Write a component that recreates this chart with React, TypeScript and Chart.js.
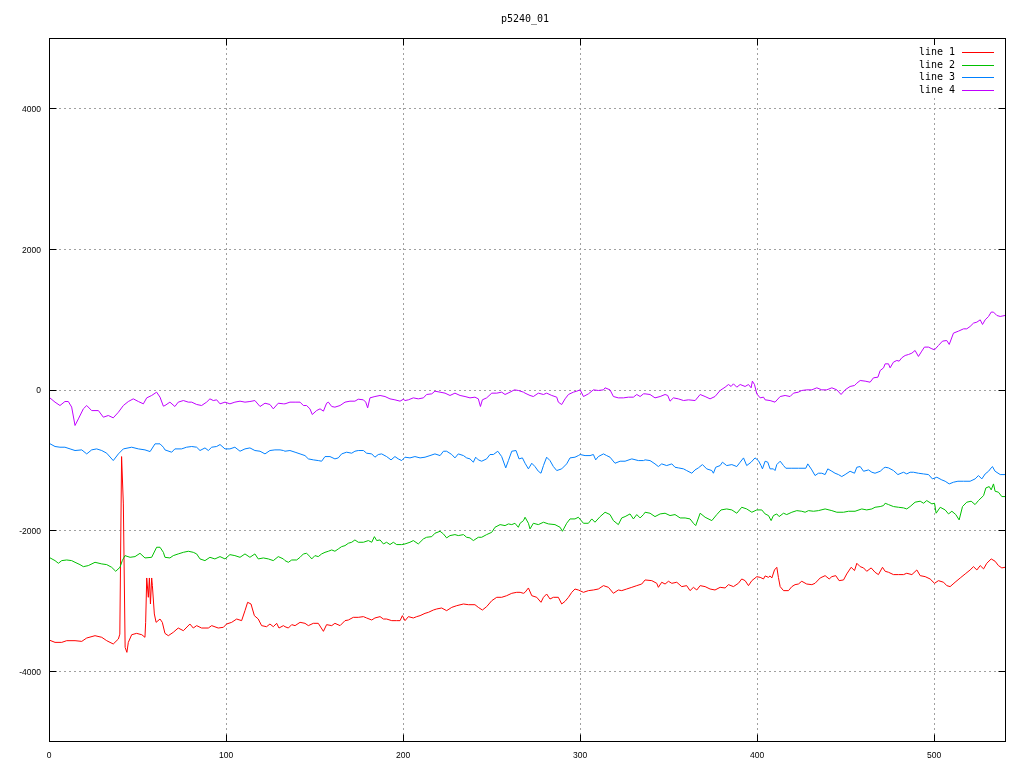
import React, { useEffect, useRef } from "react";
import { Chart, registerables } from "chart.js";

Chart.register(...registerables);

const TITLE = "p5240_01";
const X_TICKS = [0, 100, 200, 300, 400, 500];
const Y_TICKS = [-4000, -2000, 0, 2000, 4000];
const X_MIN = 0;
const X_MAX = 540;
const Y_MIN = -5000;
const Y_MAX = 5000;
const SERIES_LABELS = ["line 1", "line 2", "line 3", "line 4"];
const SERIES_COLORS = ["#ff0000", "#00c000", "#0080ff", "#c000ff"];

// line 1 (red)
const line1X = [
  0, 3.4, 7.2, 10, 14.7, 18.5, 21.3, 26, 29.8, 32.6, 36.3, 39.2, 40, 41, 42, 43, 44, 44.8, 46.7, 49.5,
  52.4, 54.2, 54.6, 55.2, 56.1, 56.7, 57.3, 58, 58.4, 59.5, 60.5, 62.7, 64,
  65.5, 67.4, 70.2, 73, 75.9, 79.6, 81.5, 83.4, 86.2, 90, 91.9, 95.6, 98.5, 100.3, 103.2, 106, 108.8, 110.7, 112.2, 114.1,
  116, 118.2, 120.1, 122.9, 124.8, 126.7, 128.6, 129.9, 132.4,
  133.3, 135.2, 137.1, 139, 141.8, 144.6, 146.5, 149.3, 152.1, 155, 156.8, 159.7, 161.5, 164.4, 167.2, 169.1, 171.9, 174.7,
  177.6, 179.4, 182.3, 184.1, 187, 188.9, 190.7, 193.6, 196.4, 198.3, 199.6,
  201.1, 203, 205.8, 207.7, 209.6, 212.4, 214.3, 217.1, 219, 221.8, 224.6, 227.5, 230.3, 234.1, 236.9, 240.6, 242.5, 244.8,
  247.2, 250.1, 252.9, 255.7, 258.5, 261.4, 264.2, 266.1, 268,
  268.9, 270.8, 272.7, 275.5, 277.9, 279.3, 281.1, 283, 284.9, 287.7, 289.6, 291.5, 293.4, 295.3, 297.1, 299, 301.9, 304.7,
  307.5, 310.3, 313.2, 316, 318.8, 321.6, 323.5, 326.3, 329.2, 332, 334.8,
  336.7, 340.5, 343.3, 344.2, 346.1, 348, 349.9, 351.8, 354.6, 357.4, 360.2, 362.1, 364, 365.9, 367.8, 370.6, 373.4, 376.2,
  379.1, 381.9, 383.8, 386.6, 389.4, 391.3, 393.2, 395.1, 397, 399.8, 401.7, 403.6,
  404.5, 406.4, 407.3, 408.3, 409.8, 411.1, 412, 413, 414.9, 417.7, 419.6, 421.4, 423.3, 425.2, 428, 430.9, 432.7, 435.6,
  438.4, 440.7, 442.2, 444.4, 446.3, 448.8, 450.6, 453.1, 455, 456.3, 458.2, 460.1, 461.9, 464.4, 466.6, 468.5, 470.8,
  472.3, 474.2, 477, 479.8, 482.7, 484.5, 487.4, 490.2, 492.1, 494.9, 497.7, 500.2, 502.4, 505.3, 507.1, 509, 511.8, 514.7,
  517.5, 520.3, 522.2, 524.1, 526, 527.9, 529.7, 532.2, 534.4, 536.3, 538.2, 540,
];
const line1Y = [
  -3563, -3597, -3597, -3573, -3573, -3583, -3535, -3502, -3525, -3573, -3620, -3549, -3480, -954, -1628, -3668, -3739, -3597, -3488, -3469,
  -3488, -3525, -3312, -2681, -2956, -2681, -3051, -2681, -2790, -3193, -3312, -3265, -3312,
  -3469, -3502, -3454, -3393, -3431, -3336, -3393, -3359, -3393, -3393, -3359, -3393, -3383, -3336, -3312, -3265, -3288, -3146, -3027, -3051,
  -3217, -3265, -3359, -3374, -3336, -3374, -3326, -3393, -3359,
  -3374, -3393, -3345, -3359, -3312, -3326, -3359, -3326, -3326, -3440, -3345, -3359, -3326, -3359, -3288, -3279, -3241, -3241,
  -3231, -3250, -3279, -3250, -3231, -3265, -3265, -3288, -3288, -3288, -3217,
  -3288, -3231, -3250, -3231, -3217, -3184, -3170, -3137, -3122, -3108, -3146, -3099, -3075, -3051, -3061, -3061, -3099, -3137,
  -3089, -3004, -2956, -2956, -2933, -2899, -2885, -2885, -2899,
  -2885, -2823, -2933, -2956, -3027, -2956, -2909, -2980, -2956, -2956, -3051, -3013, -2956, -2885, -2838, -2852, -2885, -2861,
  -2852, -2838, -2790, -2814, -2899, -2852, -2861, -2838, -2814, -2790, -2767,
  -2709, -2719, -2757, -2814, -2742, -2767, -2728, -2757, -2742, -2804, -2790, -2861, -2814, -2852, -2790, -2804, -2838, -2852,
  -2814, -2823, -2776, -2804, -2757, -2695, -2719, -2790, -2719, -2663, -2672, -2695,
  -2652, -2672, -2652, -2681, -2567, -2529, -2672, -2804, -2861, -2861, -2804, -2776, -2767, -2728, -2767, -2776, -2757, -2681,
  -2648, -2695, -2662, -2648, -2719, -2709, -2624, -2529, -2576, -2472, -2520, -2538, -2586, -2538, -2600, -2633, -2529,
  -2586, -2600, -2633, -2633, -2633, -2614, -2633, -2567, -2648, -2662, -2695, -2757, -2719, -2742, -2790, -2804, -2742, -2681,
  -2624, -2567, -2520, -2567, -2505, -2552, -2472, -2410, -2443, -2505, -2538, -2529,
];

// line 2 (green)
const line2X = [
  0, 3.4, 5.3, 7.2, 10, 12.8, 14.7, 17.5, 19.4, 22.2, 26, 29.8, 32.6, 35.4, 37.7, 40.1, 41.4, 42.9, 45.8, 48.6,
  51.4, 54.2, 58, 60.8, 62.7, 64.6,
  65.5, 68.3, 70.2, 73, 75.9, 78.7, 81.5, 83.4, 85.3, 88.1, 90.9, 93.7, 96.6, 99.4, 102.2, 105, 107.9, 110.7, 113.5, 116.3,
  118.2, 121.1, 123.9, 126.7, 129.5, 132.4,
  133.3, 135.2, 137.1, 139.9, 141.8, 143.7, 145.5, 147.4, 148.4, 150.2, 152.1, 154, 155.9, 157.8, 159.7, 161.5, 163.4, 165.3,
  167.2, 169.1, 171, 172.8, 174.7, 177.6, 180.4, 182.3, 183.8, 185.1, 187, 188.9, 190.7, 192.6, 194.5, 196.4, 199.2,
  201.1, 203.9, 205.8, 208.6, 211.5, 213.3, 216.2, 218, 220.9, 222.8, 224.6, 226.5, 229.3, 231.2, 234.1, 235.9, 237.8, 239.7,
  242.5, 244.4, 247.2, 250.1, 251.9, 254.8, 257.6, 259.5, 261.4, 263.2, 265.1, 266.1, 268,
  268.9, 270.8, 271.7, 273.6, 276.4, 279.3, 282.1, 285.8, 288.7, 290, 292.4, 294.3, 297.1, 299, 301.9, 304.7, 306.6, 308.4,
  311.3, 314.1, 316.9, 318.8, 321.6, 323.5, 325.4, 328.2, 330.1, 332, 333.9, 335.8,
  336.7, 339.5, 342.3, 345.2, 348, 350.8, 353.6, 356.5, 359.3, 362.1, 364, 365.3, 367.8, 370.6, 374.4, 377.2, 379.6, 382.8,
  385.7, 388.5, 391.3, 394.1, 397, 399.8, 402.6,
  404.5, 406.4, 407.9, 409.2, 411.1, 412.4, 414.9, 416.7, 419.6, 422.4, 425.2, 427.1, 429, 431.8, 434.6, 438.4, 442.2, 445,
  448.8, 451.6, 455.3, 459.1, 461.9, 464.8, 466.6, 469.5, 471.4,
  472.3, 474.2, 477, 479.8, 482.7, 484.5, 486.4, 489.2, 492.1, 494, 495.8, 498.7, 500.2, 501.1, 503.4, 506.2, 508.1, 510,
  512.2, 514.1, 516, 518.4, 520.9, 523.1, 525, 527.9, 529.2, 531.1, 532.2, 533.5, 534.4, 536.3, 538.2, 540,
];
const line2Y = [
  -2387, -2434, -2472, -2434, -2425, -2434, -2458, -2491, -2520, -2505, -2458, -2481, -2491, -2529, -2586, -2529, -2434, -2363, -2387, -2377,
  -2330, -2396, -2387, -2244, -2244, -2316,
  -2387, -2396, -2363, -2339, -2316, -2301, -2316, -2339, -2410, -2434, -2387, -2410, -2377, -2410, -2349, -2363, -2387, -2339, -2387, -2339,
  -2410, -2396, -2410, -2434, -2377, -2410,
  -2434, -2458, -2425, -2425, -2387, -2339, -2330, -2377, -2410, -2363, -2377, -2339, -2316, -2301, -2282, -2301, -2268, -2235,
  -2221, -2187, -2173, -2140, -2173, -2173, -2149, -2173, -2093, -2149, -2140, -2197, -2173, -2206, -2173, -2206, -2206,
  -2197, -2173, -2149, -2197, -2125, -2102, -2093, -2045, -2017, -2055, -2111, -2078, -2064, -2078, -2064, -2102, -2111, -2149,
  -2102, -2102, -2064, -2031, -1960, -1922, -1936, -1912, -1922, -1903, -1960, -1903, -1865,
  -1817, -1903, -1983, -1903, -1922, -1888, -1912, -1922, -1960, -2017, -1903, -1841, -1841, -1817, -1903, -1903, -1841, -1888,
  -1808, -1746, -1779, -1865, -1922, -1827, -1808, -1770, -1841, -1779, -1827, -1779,
  -1746, -1760, -1808, -1770, -1760, -1793, -1779, -1827, -1827, -1841, -1903, -1936, -1760, -1817, -1865, -1779, -1713, -1699,
  -1713, -1760, -1675, -1699, -1746, -1713, -1713,
  -1770, -1793, -1865, -1793, -1770, -1808, -1760, -1779, -1746, -1723, -1732, -1746, -1723, -1732, -1723, -1699, -1723, -1746,
  -1746, -1732, -1732, -1699, -1713, -1699, -1675, -1665, -1651,
  -1618, -1637, -1665, -1675, -1684, -1699, -1665, -1603, -1589, -1618, -1580, -1627, -1618, -1760, -1675, -1713, -1770, -1732,
  -1779, -1855, -1665, -1603, -1589, -1637, -1580, -1509, -1400, -1381, -1428, -1343, -1447, -1461, -1523, -1523,
];

// line 3 (blue)
const line3X = [
  0, 3.4, 6.2, 9, 11.9, 14.7, 18.5, 21.3, 24.1, 26.9, 29.8, 32.6, 36.3, 39.2, 42, 46.7, 50.5, 54.2, 57.1, 59.9, 62.7, 64.6,
  65.5, 69.3, 71.1, 74.9, 77.7, 80.6, 83.4, 85.3, 88.1, 90, 91.9, 94.7, 96.6, 99.4, 102.2, 105, 107.9, 110.7, 113.5, 116.3,
  119.2, 122, 124.8, 127.6, 130.5, 132.4,
  133.3, 136.1, 139, 141.8, 144.6, 146.5, 149.3, 152.1, 154, 155.9, 158.7, 161.5, 163.4, 165.3, 168.1, 171, 172.8, 174.7,
  177.6, 179.4, 182.3, 184.1, 186, 187.9, 190.7, 193.2, 195.4, 197.3, 199.2,
  201.1, 203.9, 206.7, 209.6, 212.4, 215.2, 218, 220.9, 222.8, 224.6, 227.5, 229.3, 231.2, 234.1, 235.9, 237.8, 239.7, 241,
  242.5, 244.4, 247.2, 249.1, 251, 253.5, 255.7, 258, 259.5, 261.4, 263.8, 265.5, 267.4,
  268.9, 270.8, 272.7, 274.5, 276.4, 277.9, 279.3, 281.1, 283, 284.9, 286.8, 289.6, 292.4, 294.3, 297.1, 299, 300, 302.8,
  305.6, 307.5, 308.8, 310.3, 313.2, 315, 316.9, 319.7, 322.6, 325.4, 329.2, 332.9, 335.8,
  336.7, 339.5, 342.3, 344.2, 346.1, 348.9, 351.8, 353.6, 355.5, 358.4, 360.2, 363.1, 364.9, 366.8, 369.1, 371.5, 374.4, 375.3,
  376.6, 379.1, 380.4, 382.8, 385.7, 388.5, 390.4, 392.3, 394.1, 396.6, 398.8, 400.7, 402.2, 403,
  404.5, 406, 407.3, 409.2, 410.1, 411.1, 413, 414.9, 416.2, 419.6, 423.3, 427.5, 428.6, 430.9, 432.7, 434.6, 436.5, 438.4,
  439.9, 442.2, 444, 445.9, 447.8, 449.7, 452.5, 455, 456.3, 458.2, 460.1, 462.9, 464.8, 466.6, 469.5, 471.4,
  472.3, 474.2, 477, 479.5, 481.3, 482.7, 484.5, 486.4, 488.3, 491.1, 494, 496.8, 499, 501.5, 504.3, 506.2, 508.5, 510.9,
  513.4, 516.6, 520.3, 523.1, 525, 526.9, 528.8, 530.7, 532.2, 532.9, 534.4, 537.3, 540,
];
const line3Y = [
  -764, -811, -821, -821, -845, -868, -859, -916, -859, -845, -868, -906, -1011, -916, -845, -821, -845, -859, -883, -773, -773, -821,
  -859, -892, -845, -845, -821, -811, -821, -868, -831, -868, -821, -811, -783, -845, -845, -821, -878, -845, -831, -868,
  -878, -916, -868, -859, -859, -868,
  -878, -868, -892, -916, -940, -987, -1001, -1011, -1020, -954, -954, -987, -973, -916, -892, -906, -878, -868,
  -868, -906, -916, -963, -925, -916, -954, -1001, -954, -987, -1011,
  -963, -973, -954, -973, -963, -940, -916, -940, -878, -878, -925, -973, -916, -940, -973, -987, -1034, -963,
  -1001, -1020, -987, -925, -925, -878, -954, -1115, -1011, -878, -868, -987, -973,
  -1049, -1129, -1049, -1096, -1163, -1191, -1082, -963, -1011, -1096, -1153, -1129, -1058, -973, -963, -940, -925, -940,
  -940, -925, -1001, -954, -916, -940, -963, -1049, -1020, -1020, -987, -1011, -1011,
  -1001, -1011, -1058, -1096, -1058, -1082, -1058, -1106, -1115, -1129, -1153, -1191, -1144, -1115, -1068, -1129, -1153, -1191,
  -1106, -1082, -1034, -1082, -1068, -1096, -1034, -973, -1082, -1034, -973, -1011, -1082, -1129,
  -1020, -1034, -1129, -1129, -1153, -1068, -1020, -1082, -1120, -1120, -1120, -1120, -1058, -1144, -1224, -1191, -1191, -1210,
  -1129, -1163, -1191, -1210, -1238, -1210, -1163, -1191, -1106, -1096, -1163, -1144, -1177, -1191, -1163, -1120,
  -1106, -1115, -1153, -1210, -1191, -1177, -1201, -1177, -1177, -1191, -1201, -1210, -1272, -1248, -1286, -1305, -1343, -1319,
  -1305, -1305, -1305, -1272, -1224, -1272, -1201, -1163, -1115, -1096, -1163, -1210, -1210,
];

// line 4 (magenta)
const line4X = [
  0, 3.4, 6.2, 9, 10.9, 12.8, 14.7, 16.6, 19.4, 21.3, 24.1, 27.9, 30.7, 33.5, 36.3, 39.2, 42, 44.8, 47.6, 50.5,
  53.3, 55.2, 58, 60.8, 62.7, 64.6,
  65.5, 68.3, 71.1, 73, 75.9, 78.7, 80.6, 83.4, 86.2, 89, 90.9, 92.8, 94.7, 96.6, 99.4, 102.2, 105, 107.9, 110.7, 113.5,
  116.3, 119.2, 122, 124.8, 126.7, 129.5, 132.4,
  133.3, 136.1, 139, 141.8, 143.7, 145.5, 147.4, 148.7, 151.2, 153.1, 155, 156.8, 157.8, 159.7, 161.5, 164.4, 167.2, 170,
  172.8, 174.7, 177.6, 178.9, 180, 181.3, 184.1, 187, 189.8, 192.6, 195.4, 198.3, 200.2,
  201.1, 203, 205.8, 208.6, 211.5, 213.3, 216.2, 218, 220.9, 223.7, 226.5, 229.3, 232.2, 235, 237.8, 240.6, 242.5, 243.7,
  244.8, 247.2, 250.1, 252.9, 255.7, 257.6, 260.4, 262.9, 265.1, 268,
  268.9, 271.7, 273.6, 276.4, 279.3, 281.1, 284, 286.8, 287.7, 289.6, 291.5, 293.4, 296.2, 298.1, 300, 301.9, 304.7, 307.5,
  310.3, 313.2, 314.1, 316.9, 318.8, 321.6, 324.5, 327.3, 330.1, 332, 333.9, 335.8,
  336.7, 339.5, 342.3, 345.2, 348, 349.5, 350.8, 352.7, 355.5, 358.4, 361.2, 365, 367.8, 370.6, 373.4, 376.2, 379.1, 381.9,
  383.8, 385.3, 386.6, 388.5, 390.4, 393.2, 395.1, 396.6, 397.3, 398.5, 399.8, 401.7, 403.6,
  404.5, 407.3, 410.1, 413, 415.8, 418.6, 420.5, 423.3, 425.2, 428, 430.9, 433.7, 436.5, 439.3, 442.2, 445, 447.4, 449.7,
  452.5, 455, 456.3, 458.2, 461, 463.8, 465.7, 468.2, 469.5, 471.4,
  472.3, 474.2, 475.1, 477, 478.9, 480.2, 481.7, 483.6, 485.5, 487.4, 489.2, 491.1, 493, 494.5, 496.8, 498.7, 500.2, 502.4,
  504.7, 507.1, 508.5, 510.9, 513.7, 516.6, 518.4, 520.3, 522.2, 524.1, 526, 527.3, 528.8, 530.7, 532.2, 533.5, 535.4, 537.3, 540,
];
const line4Y = [
  -109, -180, -228, -171, -171, -250, -512, -418, -275, -228, -300, -300, -394, -370, -403, -323, -228, -171, -133, -171,
  -204, -119, -85, -38, -109, -237,
  -228, -180, -242, -180, -157, -180, -180, -213, -228, -180, -133, -157, -147, -204, -180, -204, -180, -166, -180, -171,
  -157, -242, -195, -213, -275, -195, -204,
  -204, -180, -180, -180, -228, -228, -275, -356, -299, -275, -308, -195, -180, -242, -251, -228, -180, -166,
  -166, -138, -147, -180, -261, -119, -100, -85, -100, -133, -147, -166, -138,
  -157, -147, -119, -133, -119, -71, -62, -24, -38, -52, -85, -52, -85, -100, -119, -109, -133, -242,
  -147, -119, -52, -52, -38, -71, -38, -5, -14, -38,
  -52, -85, -100, -52, -71, -52, -85, -109, -180, -214, -133, -71, -38, -24, -5, -100, -62, -5,
  -14, -5, 24, -5, -100, -119, -119, -109, -109, -71, -100, -62,
  -62, -71, -119, -100, -71, -85, -166, -119, -133, -157, -147, -157, -71, -100, -133, -100, -14, 33,
  71, 43, 81, 33, 71, 43, 71, 24, 119, 71, -62, -119, -109,
  -147, -157, -180, -100, -85, -100, -52, -38, -14, -5, -5, 24, -5, -5, 24, -5, -71, -5,
  43, 57, 90, 128, 119, 104, 166, 175, 270, 308,
  365, 365, 308, 389, 413, 403, 451, 484, 498, 517, 555, 470, 546, 603, 603, 579, 565, 626,
  688, 697, 641, 802, 830, 863, 863, 897, 944, 958, 991, 925, 991, 1039, 1101, 1101, 1053, 1039, 1053,
];

const SERIES_X = [line1X, line2X, line3X, line4X];
const SERIES_Y = [line1Y, line2Y, line3Y, line4Y];

const MONO_FAMILY = "'DejaVu Sans Mono', 'Liberation Mono', monospace";
const SANS_FAMILY = "'Liberation Sans', Arial, sans-serif";
const MONO_SIZE = 10;
const TICK_SIZE = 8.5;
const KEY_ROW_OFFSETS = [14, 27, 39, 52];

const gnuplotDecor = {
  id: "gnuplotDecor",
  beforeDatasetsDraw(chart: any) {
    const { ctx, chartArea: a, scales } = chart;
    ctx.save();
    ctx.strokeStyle = "#a0a0a0";
    ctx.lineWidth = 1;
    ctx.setLineDash([2, 3]);
    for (const v of X_TICKS) {
      const px = Math.round(scales.x.getPixelForValue(v)) + 0.5;
      if (px <= a.left + 1 || px >= a.right - 1) continue;
      ctx.beginPath();
      ctx.moveTo(px, a.top);
      ctx.lineTo(px, a.bottom);
      ctx.stroke();
    }
    for (const v of Y_TICKS) {
      const py = Math.round(scales.y.getPixelForValue(v)) + 0.5;
      if (py <= a.top + 1 || py >= a.bottom - 1) continue;
      ctx.beginPath();
      ctx.moveTo(a.left, py);
      ctx.lineTo(a.right, py);
      ctx.stroke();
    }
    ctx.restore();
  },
  afterDatasetsDraw(chart: any) {
    const { ctx, chartArea: a, scales } = chart;
    ctx.save();
    ctx.setLineDash([]);
    ctx.strokeStyle = "#000000";
    ctx.lineWidth = 1;
    const L = Math.round(a.left) + 0.5;
    const R = Math.round(a.right) + 0.5;
    const T = Math.round(a.top) + 0.5;
    const B = Math.round(a.bottom) + 0.5;
    const tl = 7;
    ctx.beginPath();
    for (const v of X_TICKS) {
      const px = Math.round(scales.x.getPixelForValue(v)) + 0.5;
      ctx.moveTo(px, B);
      ctx.lineTo(px, B - tl);
      ctx.moveTo(px, T);
      ctx.lineTo(px, T + tl);
    }
    for (const v of Y_TICKS) {
      const py = Math.round(scales.y.getPixelForValue(v)) + 0.5;
      ctx.moveTo(L, py);
      ctx.lineTo(L + tl, py);
      ctx.moveTo(R, py);
      ctx.lineTo(R - tl, py);
    }
    ctx.stroke();
    ctx.strokeRect(L, T, R - L, B - T);

    // key (legend) in the top-right corner
    const top = Math.round(a.top);
    const lineEnd = Math.round(a.right) - 11;
    const lineStart = lineEnd - 32;
    const textRight = lineStart - 7;
    ctx.fillStyle = "#ffffff";
    ctx.fillRect(textRight - 40, top + 7, lineEnd - textRight + 44, 52);
    ctx.font = `${MONO_SIZE}px ${MONO_FAMILY}`;
    ctx.textAlign = "right";
    ctx.textBaseline = "middle";
    SERIES_LABELS.forEach((label, i) => {
      const y = top + KEY_ROW_OFFSETS[i];
      ctx.fillStyle = "#000000";
      ctx.fillText(label, textRight, y + 0.5);
      ctx.fillStyle = SERIES_COLORS[i];
      ctx.fillRect(lineStart, y, lineEnd - lineStart, 1);
    });

    // title
    ctx.fillStyle = "#000000";
    ctx.textAlign = "center";
    ctx.textBaseline = "middle";
    ctx.fillText(TITLE, (a.left + a.right) / 2 - 2, 19);
    ctx.restore();
  },
};

export default function App() {
  const canvasRef = useRef<HTMLCanvasElement | null>(null);

  useEffect(() => {
    document.body.style.margin = "0";
    const canvas = canvasRef.current;
    if (!canvas) return;
    const datasets = SERIES_LABELS.map((label, i) => ({
      label,
      data: SERIES_X[i].map((x, j) => ({ x, y: SERIES_Y[i][j] })),
      borderColor: SERIES_COLORS[i],
      backgroundColor: SERIES_COLORS[i],
      borderWidth: 1,
      pointRadius: 0,
      tension: 0,
      fill: false,
      order: SERIES_LABELS.length - i,
    }));
    const tickFont = { family: SANS_FAMILY, size: TICK_SIZE };
    const chart = new Chart(canvas, {
      type: "line",
      data: { datasets },
      options: {
        animation: false,
        responsive: false,
        devicePixelRatio: 1,
        layout: { padding: { left: 0, right: 19, top: 38, bottom: 0 } },
        plugins: {
          legend: { display: false },
          title: { display: false },
          tooltip: { enabled: false },
          colors: { enabled: false },
        },
        scales: {
          x: {
            type: "linear",
            min: X_MIN,
            max: X_MAX,
            afterBuildTicks: (s: any) => {
              s.ticks = X_TICKS.map((v) => ({ value: v }));
            },
            afterFit: (s: any) => {
              s.height = 27;
            },
            grid: { display: false, drawTicks: false },
            border: { display: false },
            ticks: {
              font: tickFont,
              color: "#000",
              padding: 10,
              maxRotation: 0,
              autoSkip: false,
              callback: (v: any) => String(v),
            },
          },
          y: {
            type: "linear",
            min: Y_MIN,
            max: Y_MAX,
            afterBuildTicks: (s: any) => {
              s.ticks = Y_TICKS.map((v) => ({ value: v }));
            },
            afterFit: (s: any) => {
              s.width = 49;
            },
            grid: { display: false, drawTicks: false },
            border: { display: false },
            ticks: {
              font: tickFont,
              color: "#000",
              padding: 8,
              labelOffset: 1.5,
              autoSkip: false,
              callback: (v: any) => String(v),
            },
          },
        },
      },
      plugins: [gnuplotDecor],
    } as any);
    return () => chart.destroy();
  }, []);

  return (
    <div style={{ width: 1024, height: 768, background: "#fff" }}>
      <canvas ref={canvasRef} width={1024} height={768} style={{ display: "block", width: 1024, height: 768 }} />
    </div>
  );
}
